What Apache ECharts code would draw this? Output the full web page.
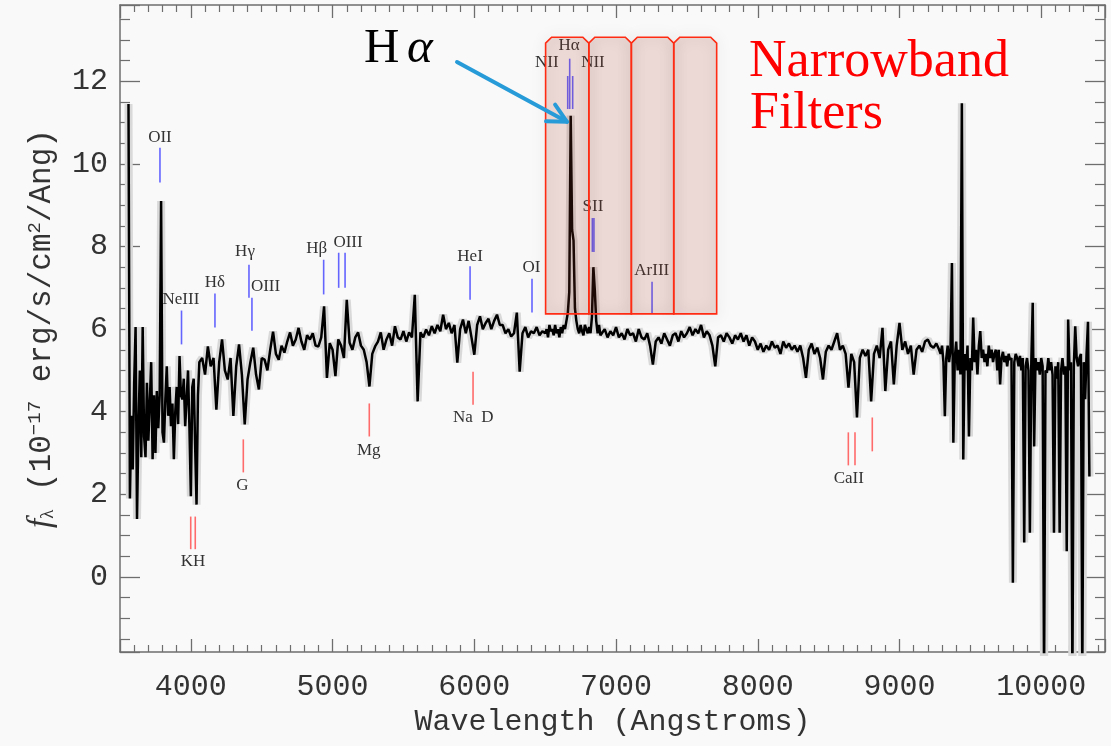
<!DOCTYPE html>
<html>
<head>
<meta charset="utf-8">
<script src="https://cdn.jsdelivr.net/npm/echarts@6/dist/echarts.min.js"></script>
<style>
    html, body { margin: 0; padding: 0; background: #f9f9f9; }
    #main { width: 1111px; height: 746px; }
</style>
</head>
<body>
<div id="main"></div>
<script>
// spectrum in pieces (start wavelength + step in Angstroms)
var uvStart = 3560, uvStep = 10;
var fluxUV = [
    11.45, 1.9, 3.9, 2.6, 4.7, 6.05, 1.4, 3.6, 5.0, 2.9,
    6.05, 3.4, 2.9, 4.7, 3.3, 4.2, 5.2, 2.85, 4.4, 3.0,
    4.5, 3.6, 4.4, 9.1, 3.5, 3.25, 4.3, 5.1, 3.9, 4.6,
    3.65, 4.2, 2.85, 4.0, 4.6, 3.7, 5.35, 4.4, 4.3, 4.8,
    3.65, 4.3, 5.0, 3.6, 1.95, 4.6, 4.8, 3.2, 1.75, 4.4,
    5.2
];
var blueStart = 4080, blueStep = 20;
var fluxBlue = [
    5.3, 4.9, 5.58, 5.1, 5.3, 4.05, 5.2, 5.75, 5.0, 4.78,
    5.3, 3.9, 5.1, 5.63, 4.9, 3.69, 4.78, 5.2, 5.55, 4.9,
    4.54, 5.3, 5.26, 5.0, 5.5, 5.94, 5.4, 5.26, 5.6, 5.43,
    5.7, 5.92, 5.6, 5.75, 6.03, 5.7, 5.5, 5.85, 5.75, 5.9,
    5.6, 5.58, 5.8, 6.55, 4.82, 5.66, 5.5, 4.86, 5.75, 5.6,
    5.3, 6.71, 5.67, 5.5, 5.8, 5.92, 5.6, 5.5, 5.2, 4.61,
    5.4, 5.58, 5.7, 5.92, 5.5, 5.75, 5.9, 5.6, 6.07, 5.8,
    5.75, 5.95, 5.7, 5.92, 5.8, 6.83, 4.25, 5.92, 5.8, 5.99,
    5.85, 6.07, 5.9, 6.1, 5.95, 6.35, 6.0, 6.15, 5.9, 6.1,
    5.19, 6.0, 6.23, 5.9, 6.2, 5.8, 5.38, 6.1, 6.31, 6.0,
    6.15, 6.25, 6.0, 6.2, 6.35, 6.1, 6.1, 5.9, 6.0, 5.82,
    5.9, 6.4, 4.97, 5.9, 6.05, 5.8, 5.95, 5.9, 6.05, 5.85,
    5.95, 5.9
];
var haStart = 6510, haStep = 10;
var fluxHa = [
    6.0, 5.8, 6.1, 5.95, 6.0, 5.85, 6.1, 5.9, 6.0, 5.8,
    6.05, 5.9, 6.1, 6.0, 6.2, 6.4, 6.9, 11.17, 8.4, 8.15,
    6.5, 6.2, 6.0, 5.9, 6.1, 5.95, 5.85, 6.1, 6.0, 5.9,
    6.05, 5.9, 6.3, 7.5, 6.95, 6.2, 5.9, 6.1, 5.85
];
var redStart = 6900, redStep = 20;
var fluxRed = [
    5.9, 6.0, 5.8, 5.95, 5.85, 6.05, 5.8, 5.9, 5.75, 6.0,
    5.85, 5.9, 5.7, 6.0, 5.8, 5.75, 5.9, 5.6, 5.14, 5.7,
    5.8, 5.65, 5.9, 5.75, 5.6, 5.85, 5.9, 5.7, 5.95, 5.8,
    5.9, 6.05, 5.85, 6.0, 5.9, 6.1, 5.8, 5.95, 5.85, 5.6,
    5.1, 5.8, 5.85, 5.7, 5.9, 5.8, 5.65, 5.85, 5.75, 5.9,
    5.7, 5.85, 5.6, 5.8, 5.7, 5.5, 5.65, 5.45, 5.6, 5.5,
    5.7, 5.55, 5.6, 5.4, 5.7, 5.55, 5.65, 5.5, 5.6, 5.45,
    5.6, 5.3, 4.82, 5.5, 5.65, 5.4, 5.55, 5.3, 4.78, 5.45,
    5.6, 5.5, 5.7, 5.9, 5.5, 5.6, 5.4, 4.58, 5.4, 5.2,
    3.86, 5.3, 5.5, 5.35, 5.5, 4.25, 5.4, 5.6, 5.3, 6.03,
    4.5, 5.5, 5.7, 4.66, 5.6, 6.15, 5.5, 5.7, 5.4, 5.6,
    4.9, 5.5, 5.6, 5.45, 5.7, 5.75, 5.6, 5.55, 5.65, 5.5
];
var nirStart = 9290, nirStep = 10;
var fluxNIR = [
    5.4, 5.6, 5.2, 3.89, 5.3, 5.6, 5.2, 5.5, 7.6, 3.25,
    5.3, 5.7, 5.0, 5.5, 4.9, 11.47, 2.84, 5.4, 5.0, 5.6,
    3.4, 5.3, 5.0, 6.28, 5.2, 5.5, 4.9, 5.6, 5.95, 5.3,
    5.5, 5.2, 5.4, 5.1, 5.6, 5.3, 5.5, 5.2, 5.4, 5.5,
    5.0, 5.5, 4.66, 5.3, 5.45, 5.2, 5.35, 5.1, 5.4, 5.25,
    5.3, -0.14, 5.2, 5.4, 5.3, 5.1, 5.35, 5.0, 5.3, 0.83,
    5.1, 5.3, 5.0, 1.07, 5.2, 6.64, 3.16, 5.3, 5.0, 5.2,
    4.9, 5.3, 5.1, -2.5, 5.0, 4.94, 5.3, 5.0, 5.2, 4.9,
    1.07, 5.1, 4.8, 5.2, 1.07, 5.0, 5.3, 4.9, 5.1, 0.62,
    6.23, 5.0, 5.2, -2.5, 5.1, 6.07, 5.3, 5.1, 5.3, 5.4,
    -2.5, 5.2, 4.3, 5.4, 6.18, 2.43
];

// emission line markers (blue) and absorption markers (red)
var emWave   = [3782, 3934, 4170, 4410, 4431, 4937, 5043, 5088, 5970, 6407, 6659, 6673, 6694, 6833, 6844, 7254];
var emTop    = [10.39, 6.45, 6.86, 7.56, 6.76, 7.68, 7.85, 7.85, 7.52, 7.22, 12.13, 12.55, 12.13, 8.69, 8.69, 7.15];
var emBottom = [9.55, 5.63, 6.04, 6.76, 5.96, 6.84, 7.0, 7.0, 6.71, 6.4, 11.33, 11.33, 11.33, 7.87, 7.87, 6.39];
var abWave   = [3999, 4031, 4370, 5259, 5991, 8639, 8686, 8808];
var abTop    = [1.46, 1.46, 3.33, 4.2, 4.97, 3.5, 3.5, 3.86];
var abBottom = [0.67, 0.67, 2.53, 3.4, 4.17, 2.7, 2.7, 3.04];

var lineNames = ['OII', 'NeIII', 'Hδ', 'Hγ', 'OIII', 'Hβ', 'OIII', 'HeI', 'OI', 'Hα', 'NII', 'NII', 'SII', 'ArIII',
                 'KH', 'G', 'Mg', 'Na  D', 'CaII'];
var nameWave = [3782, 3930, 4170, 4382, 4527, 4888, 5109, 5970, 6403, 6668, 6511, 6837, 6837, 7252,
                4015, 4364, 5255, 5993, 8642];
var nameFlux = [10.65, 6.71, 7.12, 7.87, 7.04, 7.94, 8.09, 7.77, 7.48, 12.86, 12.45, 12.45, 8.96, 7.43,
                0.36, 2.22, 3.07, 3.87, 2.39];

// narrowband filters
var filterLo = [6503, 6808, 7108, 7407];
var filterHi = [6808, 7108, 7407, 7710];
var filterTop = 13.07, filterBottom = 6.37;

// the H alpha arrow
var arrowFrom = [5878, 12.47];
var arrowTo = [6654, 11.02];

var ticksX = [4000, 5000, 6000, 7000, 8000, 9000, 10000];

function segment(start, step, flux) {
    var out = [];
    for (var i = 0; i < flux.length; i++) {
        out.push([start + i * step, flux[i]]);
    }
    return out;
}

var spectrum = [].concat(
    segment(uvStart, uvStep, fluxUV),
    segment(blueStart, blueStep, fluxBlue),
    segment(haStart, haStep, fluxHa),
    segment(redStart, redStep, fluxRed),
    segment(nirStart, nirStep, fluxNIR)
);

// [wave, top, bottom, kind]  kind 0 = emission, 1 = absorption
function markers(wave, top, bottom, kind) {
    var out = [];
    for (var i = 0; i < wave.length; i++) out.push([wave[i], top[i], bottom[i], kind]);
    return out;
}

var mono = '"Liberation Mono", "DejaVu Sans Mono", monospace';
var serif = '"Liberation Serif", "DejaVu Serif", serif';
var axisGrey = '#6e6e6e';

function makeX(pos, labels) {
    return {
        type: 'value',
        position: pos,
        min: 3500,
        max: 10450,
        splitNumber: 7,
        axisLine: { onZero: false, lineStyle: { color: axisGrey, width: 1.5 } },
        axisTick: { inside: true, length: 13, lineStyle: { color: axisGrey, width: 1.3 } },
        minorTick: { show: true, splitNumber: 10, length: 7, lineStyle: { color: axisGrey, width: 1.2 } },
        axisLabel: {
            show: labels,
            margin: 20,
            showMinLabel: false,
            showMaxLabel: false,
            color: '#333',
            fontFamily: mono,
            fontSize: 30,
            formatter: function (v) { return ticksX.indexOf(v) >= 0 ? String(v) : ''; }
        },
        splitLine: { show: false }
    };
}

function makeY(pos, labels) {
    return {
        type: 'value',
        position: pos,
        min: -1.82,
        max: 13.85,
        splitNumber: 8,
        axisLine: { onZero: false, lineStyle: { color: axisGrey, width: 1.5 } },
        axisTick: { inside: true, length: 20, lineStyle: { color: axisGrey, width: 1.3 } },
        minorTick: { show: true, splitNumber: 4, length: 10, lineStyle: { color: axisGrey, width: 1.2 } },
        axisLabel: {
            show: labels,
            margin: 12,
            showMinLabel: false,
            showMaxLabel: false,
            color: '#333',
            fontFamily: mono,
            fontSize: 30
        },
        splitLine: { show: false }
    };
}

var xBottom = makeX('bottom', true);
xBottom.name = 'Wavelength (Angstroms)';
xBottom.nameLocation = 'middle';
xBottom.nameGap = 53;
xBottom.nameTextStyle = { color: '#333', fontFamily: mono, fontSize: 30 };

var yLeft = makeY('left', true);
yLeft.name = '{i|f}{sub|λ} (10{sup|−17} erg/s/cm{sup|2}/Ang)';
yLeft.nameLocation = 'middle';
yLeft.nameGap = 62;
yLeft.nameTextStyle = {
    color: '#333', fontFamily: mono, fontSize: 31,
    rich: {
        i: { fontFamily: serif, fontStyle: 'italic', fontSize: 33, color: '#333' },
        sub: { fontFamily: serif, fontSize: 19, color: '#333', verticalAlign: 'bottom', padding: [14, 0, 0, 0] },
        sup: { fontFamily: mono, fontSize: 19, color: '#333', verticalAlign: 'top', padding: [0, 0, 14, 0] }
    }
};

var chart = echarts.init(document.getElementById('main'), null, { renderer: 'canvas' });

chart.setOption({
    backgroundColor: '#f9f9f9',
    animation: false,
    grid: { left: 120, right: 6, top: 5, bottom: 94 },
    xAxis: [xBottom, makeX('top', false)],
    yAxis: [yLeft, makeY('right', false)],
    series: [
        {
            // error band look: wide pale line under the spectrum
            type: 'line',
            data: spectrum,
            showSymbol: false,
            lineStyle: { color: '#d9d9d9', width: 8 },
            z: 1
        },
        {
            type: 'line',
            data: spectrum,
            showSymbol: false,
            lineStyle: { color: '#000', width: 2.5 },
            z: 2
        },
        {
            type: 'custom',
            dimensions: ['wave', 'top', 'bottom', 'kind'],
            data: markers(emWave, emTop, emBottom, 0).concat(markers(abWave, abTop, abBottom, 1)),
            renderItem: function (params, api) {
                var p1 = api.coord([api.value(0), api.value(1)]);
                var p2 = api.coord([api.value(0), api.value(2)]);
                var red = api.value(3) === 1;
                return {
                    type: 'line',
                    shape: { x1: p1[0], y1: p1[1], x2: p2[0], y2: p2[1] },
                    style: { stroke: red ? '#ff6b6b' : '#6464ff', lineWidth: 1.6 }
                };
            },
            z: 3
        },
        {
            type: 'custom',
            data: nameWave.map(function (w, i) { return [w, nameFlux[i]]; }),
            renderItem: function (params, api) {
                var p = api.coord([api.value(0), api.value(1)]);
                return {
                    type: 'text',
                    x: p[0],
                    y: p[1],
                    style: {
                        text: lineNames[params.dataIndex],
                        fill: '#333',
                        font: '17px ' + serif,
                        align: 'center',
                        verticalAlign: 'middle'
                    }
                };
            },
            z: 4
        },
        {
            type: 'custom',
            data: filterLo.map(function (lo, i) { return [lo, filterHi[i], filterTop, filterBottom]; }),
            renderItem: function (params, api) {
                var a = api.coord([api.value(0), api.value(2)]);
                var b = api.coord([api.value(1), api.value(3)]);
                var c = 6;
                var pts = [[a[0], b[1]], [a[0], a[1] + c], [a[0] + c, a[1]],
                           [b[0] - c, a[1]], [b[0], a[1] + c], [b[0], b[1]]];
                return {
                    type: 'group',
                    children: [
                        {
                            type: 'polygon',
                            shape: { points: pts },
                            style: { fill: 'rgba(170,60,40,0.17)' }
                        },
                        {
                            type: 'polygon',
                            shape: { points: pts },
                            style: {
                                fill: null, stroke: '#ff2b12', lineWidth: 1.6,
                                shadowBlur: 14, shadowColor: 'rgba(0,0,0,0.22)'
                            }
                        }
                    ]
                };
            },
            z: 6
        },
        {
            type: 'custom',
            data: [[arrowFrom[0], arrowFrom[1], arrowTo[0], arrowTo[1]]],
            renderItem: function (params, api) {
                var s = api.coord([api.value(0), api.value(1)]);
                var e = api.coord([api.value(2), api.value(3)]);
                var ang = Math.atan2(s[1] - e[1], s[0] - e[0]);
                var len = 21, spread = 0.47;
                var h1 = [e[0] + len * Math.cos(ang + spread), e[1] + len * Math.sin(ang + spread)];
                var h2 = [e[0] + len * Math.cos(ang - spread), e[1] + len * Math.sin(ang - spread)];
                var st = { stroke: '#279bd8', lineWidth: 4, lineCap: 'round', lineJoin: 'round', fill: null };
                return {
                    type: 'group',
                    children: [
                        { type: 'line', shape: { x1: s[0], y1: s[1], x2: e[0], y2: e[1] }, style: st },
                        { type: 'polyline', shape: { points: [h1, e, h2] }, style: st }
                    ]
                };
            },
            z: 7
        }
    ],
    graphic: [
        {
            type: 'text', left: 364, top: 25, z: 10,
            style: { text: 'H', fill: '#000', font: '49px ' + serif }
        },
        {
            type: 'text', left: 407, top: 25, z: 10,
            style: { text: 'α', fill: '#000', font: 'italic 49px ' + serif }
        },
        {
            type: 'text', left: 749, top: 36, z: 10,
            style: { text: 'Narrowband', fill: '#ff0000', font: '52px ' + serif }
        },
        {
            type: 'text', left: 750, top: 88, z: 10,
            style: { text: 'Filters', fill: '#ff0000', font: '52px ' + serif }
        }
    ]
});
</script>
</body>
</html>
